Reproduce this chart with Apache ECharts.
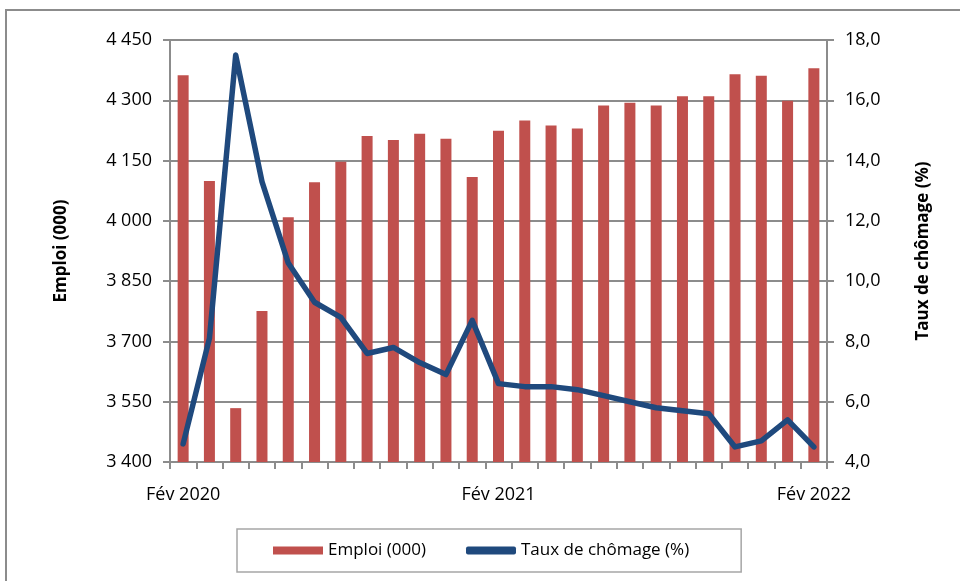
<!DOCTYPE html>
<html>
<head>
<meta charset="utf-8">
<script src="https://cdn.jsdelivr.net/npm/echarts@6/dist/echarts.min.js"></script>
<style>
html,body{margin:0;padding:0;background:#fff}
#main{width:960px;height:581px}
</style>
</head>
<body>
<div id="main"></div>
<script>
// ===================== données =====================
const mois = ['Fév 2020','Mar 2020','Avr 2020','Mai 2020','Juin 2020','Juil 2020','Août 2020','Sep 2020','Oct 2020','Nov 2020','Déc 2020','Jan 2021',
	'Fév 2021','Mar 2021','Avr 2021','Mai 2021','Juin 2021','Juil 2021','Août 2021','Sep 2021','Oct 2021','Nov 2021','Déc 2021','Jan 2022','Fév 2022']
const emploi = [4362,4099,3534,3776,4009,4096,4147,4211,4201,4217,4204,4109,
	4224,4250,4237,4230,4287,4294,4287,4310,4310,4365,4361,4299,4380]
const chomage = [4.6,8.1,17.5,13.3,10.6,9.3,8.8,7.6,7.8,7.3,6.9,8.7,
	6.6,6.5,6.5,6.4,6.2,6.0,5.8,5.7,5.6,4.5,4.7,5.4,4.5]
const emploiTicks = [3400,4450,150]
const chomageTicks = [4,18,2]

const gris = '#8c8c8c'
const police = 'Open Sans'

const option = {
	animation:false,
	textStyle:{ fontFamily:police },
	graphic:[{
		type:'rect', shape:{ x:6, y:10, width:980, height:600 },
		style:{ fill:'none', stroke:gris, lineWidth:2 }, silent:true
	}],
	grid:{ left:170, right:133, top:40, bottom:119 },
	legend:{
		bottom:9, left:237,
		padding:[13,52,13,36],
		borderColor:'#a6a6a6', borderWidth:1.5,
		itemWidth:50, itemHeight:8, itemGap:40,
		textStyle:{ fontFamily:police, fontSize:17, color:'#000' },
		data:[{ name:'Emploi (000)', icon:'rect' },{ name:'Taux de chômage (%)', icon:'roundRect' }]
	},
	xAxis:{
		type:'category', data:mois, boundaryGap:true,
		axisLine:{ lineStyle:{ color:gris, width:2 } },
		axisTick:{ show:true, interval:0, length:7, lineStyle:{ color:gris, width:2 } },
		axisLabel:{ interval:11, margin:24, fontSize:18, color:'#000', fontFamily:police }
	},
	yAxis:[{
		type:'value', min:emploiTicks[0], max:emploiTicks[1], interval:emploiTicks[2],
		name:'Emploi (000)', nameLocation:'middle', nameGap:100, nameRotate:90,
		nameTextStyle:{ fontSize:17, fontWeight:'bold', color:'#000', fontFamily:police },
		axisLine:{ show:true, lineStyle:{ color:gris, width:2 } },
		axisTick:{ show:true, length:7, lineStyle:{ color:gris, width:2 } },
		splitLine:{ lineStyle:{ color:gris, width:2 } },
		axisLabel:{ fontSize:18, color:'#000', margin:18, fontFamily:police,
			formatter:v=>String(v).replace(/\B(?=(\d{3})+(?!\d))/g,' ') }
	},{
		type:'value', min:chomageTicks[0], max:chomageTicks[1], interval:chomageTicks[2],
		name:'Taux de chômage (%)', nameLocation:'middle', nameGap:88, nameRotate:90,
		nameTextStyle:{ fontSize:17, fontWeight:'bold', color:'#000', fontFamily:police },
		axisLine:{ show:true, lineStyle:{ color:gris, width:2 } },
		axisTick:{ show:true, length:7, lineStyle:{ color:gris, width:2 } },
		splitLine:{ show:false },
		axisLabel:{ fontSize:18, color:'#000', margin:18, fontFamily:police,
			formatter:v=>v.toFixed(1).replace('.',',') }
	}],
	series:[{
		name:'Emploi (000)', type:'bar', data:emploi, barWidth:11,
		itemStyle:{ color:'#C0504D' }
	},{
		name:'Taux de chômage (%)', type:'line', yAxisIndex:1, data:chomage,
		symbol:'none', legendIcon:'roundRect',
		lineStyle:{ color:'#1F497D', width:5.5, cap:'round', join:'round' },
		itemStyle:{ color:'#1F497D' }
	}]
}

const chart = echarts.init(document.getElementById('main'))
chart.setOption(option)
</script>
</body>
</html>
